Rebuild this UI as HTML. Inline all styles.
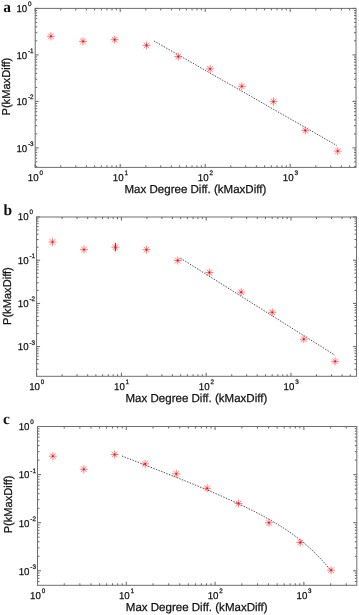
<!DOCTYPE html>
<html><head><meta charset="utf-8"><style>
html,body{margin:0;padding:0;background:#fff;width:359px;height:615px;overflow:hidden}
svg{display:block;will-change:transform;text-rendering:geometricPrecision}
text{font-family:"Liberation Sans",sans-serif;fill:#111;stroke:#111;stroke-width:0.25px}
.pl{font-family:"Liberation Serif",serif;font-weight:bold;font-size:15.5px;stroke:none}
</style></head><body>
<svg width="359" height="615" viewBox="0 0 359 615">
<path d="M35.2 167.4v-3.5 M35.2 8.4v3.5 M60.79 167.4v-2 M60.79 8.4v2 M75.76 167.4v-2 M75.76 8.4v2 M86.38 167.4v-2 M86.38 8.4v2 M94.61 167.4v-2 M94.61 8.4v2 M101.34 167.4v-2 M101.34 8.4v2 M107.03 167.4v-2 M107.03 8.4v2 M111.96 167.4v-2 M111.96 8.4v2 M116.31 167.4v-2 M116.31 8.4v2 M120.2 167.4v-3.5 M120.2 8.4v3.5 M145.79 167.4v-2 M145.79 8.4v2 M160.76 167.4v-2 M160.76 8.4v2 M171.38 167.4v-2 M171.38 8.4v2 M179.61 167.4v-2 M179.61 8.4v2 M186.34 167.4v-2 M186.34 8.4v2 M192.03 167.4v-2 M192.03 8.4v2 M196.96 167.4v-2 M196.96 8.4v2 M201.31 167.4v-2 M201.31 8.4v2 M205.2 167.4v-3.5 M205.2 8.4v3.5 M230.79 167.4v-2 M230.79 8.4v2 M245.76 167.4v-2 M245.76 8.4v2 M256.38 167.4v-2 M256.38 8.4v2 M264.61 167.4v-2 M264.61 8.4v2 M271.34 167.4v-2 M271.34 8.4v2 M277.03 167.4v-2 M277.03 8.4v2 M281.96 167.4v-2 M281.96 8.4v2 M286.31 167.4v-2 M286.31 8.4v2 M290.2 167.4v-3.5 M290.2 8.4v3.5 M315.79 167.4v-2 M315.79 8.4v2 M330.76 167.4v-2 M330.76 8.4v2 M341.38 167.4v-2 M341.38 8.4v2 M349.61 167.4v-2 M349.61 8.4v2 M35.2 166.4h2 M356 166.4h-2 M35.2 161.9h2 M356 161.9h-2 M35.2 158.22h2 M356 158.22h-2 M35.2 155.1h2 M356 155.1h-2 M35.2 152.41h2 M356 152.41h-2 M35.2 150.03h2 M356 150.03h-2 M35.2 147.9h3.5 M356 147.9h-3.5 M35.2 133.9h2 M356 133.9h-2 M35.2 125.71h2 M356 125.71h-2 M35.2 119.9h2 M356 119.9h-2 M35.2 115.4h2 M356 115.4h-2 M35.2 111.72h2 M356 111.72h-2 M35.2 108.6h2 M356 108.6h-2 M35.2 105.91h2 M356 105.91h-2 M35.2 103.53h2 M356 103.53h-2 M35.2 101.4h3.5 M356 101.4h-3.5 M35.2 87.4h2 M356 87.4h-2 M35.2 79.21h2 M356 79.21h-2 M35.2 73.4h2 M356 73.4h-2 M35.2 68.9h2 M356 68.9h-2 M35.2 65.22h2 M356 65.22h-2 M35.2 62.1h2 M356 62.1h-2 M35.2 59.41h2 M356 59.41h-2 M35.2 57.03h2 M356 57.03h-2 M35.2 54.9h3.5 M356 54.9h-3.5 M35.2 40.9h2 M356 40.9h-2 M35.2 32.71h2 M356 32.71h-2 M35.2 26.9h2 M356 26.9h-2 M35.2 22.4h2 M356 22.4h-2 M35.2 18.72h2 M356 18.72h-2 M35.2 15.6h2 M356 15.6h-2 M35.2 12.91h2 M356 12.91h-2 M35.2 10.53h2 M356 10.53h-2 M35.2 8.4h3.5 M356 8.4h-3.5" stroke="#505050" stroke-width="0.9" fill="none"/>
<rect x="35.2" y="8.4" width="320.8" height="159" fill="none" stroke="#6e6e6e" stroke-width="1"/>
<text transform="translate(38.6 180.7) scale(0.97 1)" text-anchor="end" font-size="10">10</text><text transform="translate(39.4 174.8) scale(0.97 1)" font-size="6.5">0</text>
<text transform="translate(123.6 180.7) scale(0.97 1)" text-anchor="end" font-size="10">10</text><text transform="translate(124.4 174.8) scale(0.97 1)" font-size="6.5">1</text>
<text transform="translate(208.6 180.7) scale(0.97 1)" text-anchor="end" font-size="10">10</text><text transform="translate(209.4 174.8) scale(0.97 1)" font-size="6.5">2</text>
<text transform="translate(293.6 180.7) scale(0.97 1)" text-anchor="end" font-size="10">10</text><text transform="translate(294.4 174.8) scale(0.97 1)" font-size="6.5">3</text>
<text transform="translate(27.2 11.6) scale(0.97 1)" text-anchor="end" font-size="10">10</text><text transform="translate(28 5.7) scale(0.97 1)" font-size="6.5">0</text>
<text transform="translate(27.2 58.7) scale(0.97 1)" text-anchor="end" font-size="10">10</text><text transform="translate(28 52.8) scale(0.97 1)" font-size="6.5">-1</text>
<text transform="translate(27.2 105.2) scale(0.97 1)" text-anchor="end" font-size="10">10</text><text transform="translate(28 99.3) scale(0.97 1)" font-size="6.5">-2</text>
<text transform="translate(27.2 151.7) scale(0.97 1)" text-anchor="end" font-size="10">10</text><text transform="translate(28 145.8) scale(0.97 1)" font-size="6.5">-3</text>
<text x="124.5" y="192.6" font-size="11.6" textLength="141.8" lengthAdjust="spacingAndGlyphs">Max Degree Diff. (kMaxDiff)</text>
<text transform="translate(9.8 86.6) rotate(-90)" text-anchor="middle" font-size="11.4" textLength="57.8" lengthAdjust="spacingAndGlyphs">P(kMaxDiff)</text>
<text x="3.3" y="11.7" class="pl">a</text>
<path d="M154 41L337 145.6" stroke="#333" stroke-width="0.9" stroke-dasharray="1.4 1.4" fill="none"/>
<path d="M46.9 36.3h8 M50.9 32.3v8 M48.07 33.47l5.66 5.66 M48.07 39.13l5.66 -5.66 M79 41.4h8 M83 37.4v8 M80.17 38.57l5.66 5.66 M80.17 44.23l5.66 -5.66 M110.7 39.7h8 M114.7 35.7v8 M111.87 36.87l5.66 5.66 M111.87 42.53l5.66 -5.66 M142.5 45.4h8 M146.5 41.4v8 M143.67 42.57l5.66 5.66 M143.67 48.23l5.66 -5.66 M174.3 56.6h8 M178.3 52.6v8 M175.47 53.77l5.66 5.66 M175.47 59.43l5.66 -5.66 M206.1 68.9h8 M210.1 64.9v8 M207.27 66.07l5.66 5.66 M207.27 71.73l5.66 -5.66 M237.8 86.3h8 M241.8 82.3v8 M238.97 83.47l5.66 5.66 M238.97 89.13l5.66 -5.66 M269.5 101.6h8 M273.5 97.6v8 M270.67 98.77l5.66 5.66 M270.67 104.43l5.66 -5.66 M301.3 130.4h8 M305.3 126.4v8 M302.47 127.57l5.66 5.66 M302.47 133.23l5.66 -5.66 M333.7 151.1h8 M337.7 147.1v8 M334.87 148.27l5.66 5.66 M334.87 153.93l5.66 -5.66" stroke="#ff5050" stroke-width="0.75" fill="none"/>
<g fill="#ff0000"><circle cx="50.9" cy="36.3" r="0.9"/><circle cx="83" cy="41.4" r="0.9"/><circle cx="114.7" cy="39.7" r="0.9"/><circle cx="146.5" cy="45.4" r="0.9"/><circle cx="178.3" cy="56.6" r="0.9"/><circle cx="210.1" cy="68.9" r="0.9"/><circle cx="241.8" cy="86.3" r="0.9"/><circle cx="273.5" cy="101.6" r="0.9"/><circle cx="305.3" cy="130.4" r="0.9"/><circle cx="337.7" cy="151.1" r="0.9"/></g>
<path d="M36.6 376.3v-3.5 M36.6 217v3.5 M62.13 376.3v-2 M62.13 217v2 M77.06 376.3v-2 M77.06 217v2 M87.65 376.3v-2 M87.65 217v2 M95.87 376.3v-2 M95.87 217v2 M102.59 376.3v-2 M102.59 217v2 M108.26 376.3v-2 M108.26 217v2 M113.18 376.3v-2 M113.18 217v2 M117.52 376.3v-2 M117.52 217v2 M121.4 376.3v-3.5 M121.4 217v3.5 M146.93 376.3v-2 M146.93 217v2 M161.86 376.3v-2 M161.86 217v2 M172.45 376.3v-2 M172.45 217v2 M180.67 376.3v-2 M180.67 217v2 M187.39 376.3v-2 M187.39 217v2 M193.06 376.3v-2 M193.06 217v2 M197.98 376.3v-2 M197.98 217v2 M202.32 376.3v-2 M202.32 217v2 M206.2 376.3v-3.5 M206.2 217v3.5 M231.73 376.3v-2 M231.73 217v2 M246.66 376.3v-2 M246.66 217v2 M257.25 376.3v-2 M257.25 217v2 M265.47 376.3v-2 M265.47 217v2 M272.19 376.3v-2 M272.19 217v2 M277.86 376.3v-2 M277.86 217v2 M282.78 376.3v-2 M282.78 217v2 M287.12 376.3v-2 M287.12 217v2 M291 376.3v-3.5 M291 217v3.5 M316.53 376.3v-2 M316.53 217v2 M331.46 376.3v-2 M331.46 217v2 M342.05 376.3v-2 M342.05 217v2 M350.27 376.3v-2 M350.27 217v2 M36.6 369.19h2 M356.5 369.19h-2 M36.6 363.79h2 M356.5 363.79h-2 M36.6 359.6h2 M356.5 359.6h-2 M36.6 356.18h2 M356.5 356.18h-2 M36.6 353.29h2 M356.5 353.29h-2 M36.6 350.79h2 M356.5 350.79h-2 M36.6 348.58h2 M356.5 348.58h-2 M36.6 346.6h3.5 M356.5 346.6h-3.5 M36.6 333.6h2 M356.5 333.6h-2 M36.6 325.99h2 M356.5 325.99h-2 M36.6 320.59h2 M356.5 320.59h-2 M36.6 316.4h2 M356.5 316.4h-2 M36.6 312.98h2 M356.5 312.98h-2 M36.6 310.09h2 M356.5 310.09h-2 M36.6 307.59h2 M356.5 307.59h-2 M36.6 305.38h2 M356.5 305.38h-2 M36.6 303.4h3.5 M356.5 303.4h-3.5 M36.6 290.4h2 M356.5 290.4h-2 M36.6 282.79h2 M356.5 282.79h-2 M36.6 277.39h2 M356.5 277.39h-2 M36.6 273.2h2 M356.5 273.2h-2 M36.6 269.78h2 M356.5 269.78h-2 M36.6 266.89h2 M356.5 266.89h-2 M36.6 264.39h2 M356.5 264.39h-2 M36.6 262.18h2 M356.5 262.18h-2 M36.6 260.2h3.5 M356.5 260.2h-3.5 M36.6 247.2h2 M356.5 247.2h-2 M36.6 239.59h2 M356.5 239.59h-2 M36.6 234.19h2 M356.5 234.19h-2 M36.6 230h2 M356.5 230h-2 M36.6 226.58h2 M356.5 226.58h-2 M36.6 223.69h2 M356.5 223.69h-2 M36.6 221.19h2 M356.5 221.19h-2 M36.6 218.98h2 M356.5 218.98h-2 M36.6 217h3.5 M356.5 217h-3.5" stroke="#505050" stroke-width="0.9" fill="none"/>
<rect x="36.6" y="217" width="319.9" height="159.3" fill="none" stroke="#6e6e6e" stroke-width="1"/>
<text transform="translate(40 389.6) scale(0.97 1)" text-anchor="end" font-size="10">10</text><text transform="translate(40.8 383.7) scale(0.97 1)" font-size="6.5">0</text>
<text transform="translate(124.8 389.6) scale(0.97 1)" text-anchor="end" font-size="10">10</text><text transform="translate(125.6 383.7) scale(0.97 1)" font-size="6.5">1</text>
<text transform="translate(209.6 389.6) scale(0.97 1)" text-anchor="end" font-size="10">10</text><text transform="translate(210.4 383.7) scale(0.97 1)" font-size="6.5">2</text>
<text transform="translate(294.4 389.6) scale(0.97 1)" text-anchor="end" font-size="10">10</text><text transform="translate(295.2 383.7) scale(0.97 1)" font-size="6.5">3</text>
<text transform="translate(28.6 220.2) scale(0.97 1)" text-anchor="end" font-size="10">10</text><text transform="translate(29.4 214.3) scale(0.97 1)" font-size="6.5">0</text>
<text transform="translate(28.6 264) scale(0.97 1)" text-anchor="end" font-size="10">10</text><text transform="translate(29.4 258.1) scale(0.97 1)" font-size="6.5">-1</text>
<text transform="translate(28.6 307.2) scale(0.97 1)" text-anchor="end" font-size="10">10</text><text transform="translate(29.4 301.3) scale(0.97 1)" font-size="6.5">-2</text>
<text transform="translate(28.6 350.4) scale(0.97 1)" text-anchor="end" font-size="10">10</text><text transform="translate(29.4 344.5) scale(0.97 1)" font-size="6.5">-3</text>
<text x="125.5" y="401.5" font-size="11.6" textLength="141.8" lengthAdjust="spacingAndGlyphs">Max Degree Diff. (kMaxDiff)</text>
<text transform="translate(10.9 296.1) rotate(-90)" text-anchor="middle" font-size="11.4" textLength="57.8" lengthAdjust="spacingAndGlyphs">P(kMaxDiff)</text>
<text x="3.5" y="215" class="pl">b</text>
<path d="M180.5 258.2L335 355.2" stroke="#333" stroke-width="0.9" stroke-dasharray="1.4 1.4" fill="none"/>
<path d="M48.5 242h8 M52.5 238v8 M49.67 239.17l5.66 5.66 M49.67 244.83l5.66 -5.66 M80 249.6h8 M84 245.6v8 M81.17 246.77l5.66 5.66 M81.17 252.43l5.66 -5.66 M111.45 247.2h8 M115.45 243.2v8 M112.62 244.37l5.66 5.66 M112.62 250.03l5.66 -5.66 M142.5 249.7h8 M146.5 245.7v8 M143.67 246.87l5.66 5.66 M143.67 252.53l5.66 -5.66 M173.8 260.5h8 M177.8 256.5v8 M174.97 257.67l5.66 5.66 M174.97 263.33l5.66 -5.66 M205.4 272.5h8 M209.4 268.5v8 M206.57 269.67l5.66 5.66 M206.57 275.33l5.66 -5.66 M237.2 292.2h8 M241.2 288.2v8 M238.37 289.37l5.66 5.66 M238.37 295.03l5.66 -5.66 M268.3 312.3h8 M272.3 308.3v8 M269.47 309.47l5.66 5.66 M269.47 315.13l5.66 -5.66 M299.8 339.2h8 M303.8 335.2v8 M300.97 336.37l5.66 5.66 M300.97 342.03l5.66 -5.66 M331.1 361.4h8 M335.1 357.4v8 M332.27 358.57l5.66 5.66 M332.27 364.23l5.66 -5.66" stroke="#ff5050" stroke-width="0.75" fill="none"/>
<g fill="#ff0000"><circle cx="52.5" cy="242" r="0.9"/><circle cx="84" cy="249.6" r="0.9"/><circle cx="115.45" cy="247.2" r="0.9"/><circle cx="146.5" cy="249.7" r="0.9"/><circle cx="177.8" cy="260.5" r="0.9"/><circle cx="209.4" cy="272.5" r="0.9"/><circle cx="241.2" cy="292.2" r="0.9"/><circle cx="272.3" cy="312.3" r="0.9"/><circle cx="303.8" cy="339.2" r="0.9"/><circle cx="335.1" cy="361.4" r="0.9"/></g>
<path d="M115.5 243v8.2" stroke="#ff0000" stroke-width="1.1" fill="none"/>
<path d="M37.5 585.3v-3.5 M37.5 426.5v3.5 M64.23 585.3v-2 M64.23 426.5v2 M79.87 585.3v-2 M79.87 426.5v2 M90.96 585.3v-2 M90.96 426.5v2 M99.57 585.3v-2 M99.57 426.5v2 M106.6 585.3v-2 M106.6 426.5v2 M112.54 585.3v-2 M112.54 426.5v2 M117.69 585.3v-2 M117.69 426.5v2 M122.24 585.3v-2 M122.24 426.5v2 M126.3 585.3v-3.5 M126.3 426.5v3.5 M153.03 585.3v-2 M153.03 426.5v2 M168.67 585.3v-2 M168.67 426.5v2 M179.76 585.3v-2 M179.76 426.5v2 M188.37 585.3v-2 M188.37 426.5v2 M195.4 585.3v-2 M195.4 426.5v2 M201.34 585.3v-2 M201.34 426.5v2 M206.49 585.3v-2 M206.49 426.5v2 M211.04 585.3v-2 M211.04 426.5v2 M215.1 585.3v-3.5 M215.1 426.5v3.5 M241.83 585.3v-2 M241.83 426.5v2 M257.47 585.3v-2 M257.47 426.5v2 M268.56 585.3v-2 M268.56 426.5v2 M277.17 585.3v-2 M277.17 426.5v2 M284.2 585.3v-2 M284.2 426.5v2 M290.14 585.3v-2 M290.14 426.5v2 M295.29 585.3v-2 M295.29 426.5v2 M299.84 585.3v-2 M299.84 426.5v2 M303.9 585.3v-3.5 M303.9 426.5v3.5 M330.63 585.3v-2 M330.63 426.5v2 M346.27 585.3v-2 M346.27 426.5v2 M37.5 581.47h2 M356.8 581.47h-2 M37.5 578.25h2 M356.8 578.25h-2 M37.5 575.46h2 M356.8 575.46h-2 M37.5 573h2 M356.8 573h-2 M37.5 570.8h3.5 M356.8 570.8h-3.5 M37.5 556.32h2 M356.8 556.32h-2 M37.5 547.85h2 M356.8 547.85h-2 M37.5 541.84h2 M356.8 541.84h-2 M37.5 537.18h2 M356.8 537.18h-2 M37.5 533.37h2 M356.8 533.37h-2 M37.5 530.15h2 M356.8 530.15h-2 M37.5 527.36h2 M356.8 527.36h-2 M37.5 524.9h2 M356.8 524.9h-2 M37.5 522.7h3.5 M356.8 522.7h-3.5 M37.5 508.22h2 M356.8 508.22h-2 M37.5 499.75h2 M356.8 499.75h-2 M37.5 493.74h2 M356.8 493.74h-2 M37.5 489.08h2 M356.8 489.08h-2 M37.5 485.27h2 M356.8 485.27h-2 M37.5 482.05h2 M356.8 482.05h-2 M37.5 479.26h2 M356.8 479.26h-2 M37.5 476.8h2 M356.8 476.8h-2 M37.5 474.6h3.5 M356.8 474.6h-3.5 M37.5 460.12h2 M356.8 460.12h-2 M37.5 451.65h2 M356.8 451.65h-2 M37.5 445.64h2 M356.8 445.64h-2 M37.5 440.98h2 M356.8 440.98h-2 M37.5 437.17h2 M356.8 437.17h-2 M37.5 433.95h2 M356.8 433.95h-2 M37.5 431.16h2 M356.8 431.16h-2 M37.5 428.7h2 M356.8 428.7h-2 M37.5 426.5h3.5 M356.8 426.5h-3.5" stroke="#505050" stroke-width="0.9" fill="none"/>
<rect x="37.5" y="426.5" width="319.3" height="158.8" fill="none" stroke="#6e6e6e" stroke-width="1"/>
<text transform="translate(40.9 598.6) scale(0.97 1)" text-anchor="end" font-size="10">10</text><text transform="translate(41.7 592.7) scale(0.97 1)" font-size="6.5">0</text>
<text transform="translate(129.7 598.6) scale(0.97 1)" text-anchor="end" font-size="10">10</text><text transform="translate(130.5 592.7) scale(0.97 1)" font-size="6.5">1</text>
<text transform="translate(218.5 598.6) scale(0.97 1)" text-anchor="end" font-size="10">10</text><text transform="translate(219.3 592.7) scale(0.97 1)" font-size="6.5">2</text>
<text transform="translate(307.3 598.6) scale(0.97 1)" text-anchor="end" font-size="10">10</text><text transform="translate(308.1 592.7) scale(0.97 1)" font-size="6.5">3</text>
<text transform="translate(29.5 429.7) scale(0.97 1)" text-anchor="end" font-size="10">10</text><text transform="translate(30.3 423.8) scale(0.97 1)" font-size="6.5">0</text>
<text transform="translate(29.5 478.4) scale(0.97 1)" text-anchor="end" font-size="10">10</text><text transform="translate(30.3 472.5) scale(0.97 1)" font-size="6.5">-1</text>
<text transform="translate(29.5 526.5) scale(0.97 1)" text-anchor="end" font-size="10">10</text><text transform="translate(30.3 520.6) scale(0.97 1)" font-size="6.5">-2</text>
<text transform="translate(29.5 574.6) scale(0.97 1)" text-anchor="end" font-size="10">10</text><text transform="translate(30.3 568.7) scale(0.97 1)" font-size="6.5">-3</text>
<text x="125.8" y="610.5" font-size="11.6" textLength="141.8" lengthAdjust="spacingAndGlyphs">Max Degree Diff. (kMaxDiff)</text>
<text transform="translate(11.9 504.4) rotate(-90)" text-anchor="middle" font-size="11.4" textLength="57.8" lengthAdjust="spacingAndGlyphs">P(kMaxDiff)</text>
<text x="3" y="423.6" class="pl">c</text>
<path d="M122 456.01L126 457.56L130 459.11L134 460.67L138 462.23L142 463.79L146 465.36L150 466.93L154 468.5L158 470.07L162 471.65L166 473.24L170 474.83L174 476.42L178 478.02L182 479.63L186 481.25L190 482.87L194 484.51L198 486.15L202 487.81L206 489.48L210 491.16L214 492.87L218 494.59L222 496.32L226 498.09L230 499.87L234 501.69L238 503.53L242 505.41L246 507.32L250 509.28L254 511.28L258 513.33L262 515.44L266 517.61L270 519.85L274 522.16L278 524.57L282 527.06L286 529.66L290 532.38L294 535.23L298 538.22L302 541.37L306 544.69L310 548.21L314 551.95L318 555.93L322 560.18L326 564.72L330 569.59" stroke="#333" stroke-width="0.9" stroke-dasharray="1.4 1.4" fill="none"/>
<path d="M48.9 456.2h8 M52.9 452.2v8 M50.07 453.37l5.66 5.66 M50.07 459.03l5.66 -5.66 M79.8 469.3h8 M83.8 465.3v8 M80.97 466.47l5.66 5.66 M80.97 472.13l5.66 -5.66 M110.7 454.5h8 M114.7 450.5v8 M111.87 451.67l5.66 5.66 M111.87 457.33l5.66 -5.66 M141.2 463.9h8 M145.2 459.9v8 M142.37 461.07l5.66 5.66 M142.37 466.73l5.66 -5.66 M172.3 473.8h8 M176.3 469.8v8 M173.47 470.97l5.66 5.66 M173.47 476.63l5.66 -5.66 M203.2 488.3h8 M207.2 484.3v8 M204.37 485.47l5.66 5.66 M204.37 491.13l5.66 -5.66 M234.5 503.4h8 M238.5 499.4v8 M235.67 500.57l5.66 5.66 M235.67 506.23l5.66 -5.66 M265 522.7h8 M269 518.7v8 M266.17 519.87l5.66 5.66 M266.17 525.53l5.66 -5.66 M296.3 542.5h8 M300.3 538.5v8 M297.47 539.67l5.66 5.66 M297.47 545.33l5.66 -5.66 M327.1 570.2h8 M331.1 566.2v8 M328.27 567.37l5.66 5.66 M328.27 573.03l5.66 -5.66" stroke="#ff5050" stroke-width="0.75" fill="none"/>
<g fill="#ff0000"><circle cx="52.9" cy="456.2" r="0.9"/><circle cx="83.8" cy="469.3" r="0.9"/><circle cx="114.7" cy="454.5" r="0.9"/><circle cx="145.2" cy="463.9" r="0.9"/><circle cx="176.3" cy="473.8" r="0.9"/><circle cx="207.2" cy="488.3" r="0.9"/><circle cx="238.5" cy="503.4" r="0.9"/><circle cx="269" cy="522.7" r="0.9"/><circle cx="300.3" cy="542.5" r="0.9"/><circle cx="331.1" cy="570.2" r="0.9"/></g>
</svg>
</body></html>
